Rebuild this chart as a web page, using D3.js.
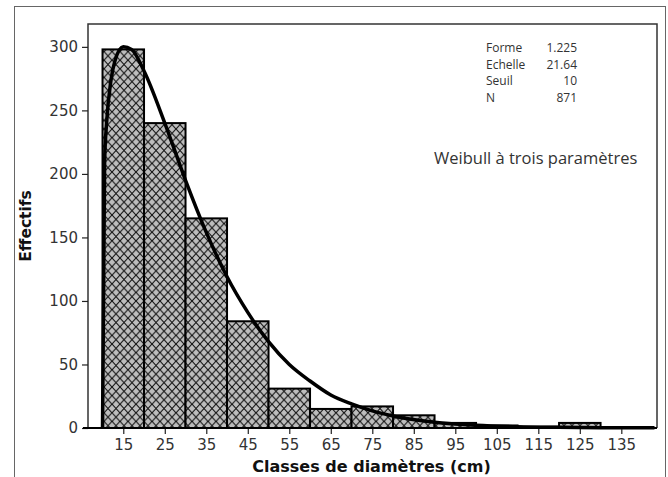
<!DOCTYPE html>
<html>
<head>
<meta charset="utf-8">
<script src="https://cdn.jsdelivr.net/npm/d3@7"></script>
<style>
  body { margin: 0; background: #fff; }
  svg { display: block; }
</style>
</head>
<body>
<svg id="chart" width="668" height="477"></svg>
<script>
// classes de diamètres (bornes inférieures) et effectifs
const binStarts = [10, 20, 30, 40, 50, 60, 70, 80, 90, 100, 110, 120, 130];
const counts = [298, 240, 165, 84, 31, 15, 17, 10, 4, 2, 1, 4, 0];
const binWidth = 10;

// courbe ajustée
const curveX = [10, 10.5, 11, 12, 13, 15, 17, 20, 25, 30, 35, 40, 45, 50, 55, 60, 65, 70, 75, 80, 90, 100, 110, 120, 130, 143];
const curveY = [0, 209, 241, 273, 289, 300, 298, 281, 240, 195, 154, 119, 91, 68, 50, 37, 26, 19, 13.5, 9.5, 4.6, 2.2, 1, 0.5, 0.2, 0.1];

const xTicks = [15, 25, 35, 45, 55, 65, 75, 85, 95, 105, 115, 125, 135];
const yTicks = [0, 50, 100, 150, 200, 250, 300];

const statLabels = ['Forme', 'Echelle', 'Seuil', 'N'];
const statValues = ['1.225', '21.64', '10', '871'];

const svg = d3.select('#chart');
const pLeft = 88, pRight = 657, pTop = 24, pBottom = 428;

const x = d3.scaleLinear().domain([6.5, 143.6]).range([pLeft, pRight]);
const y = d3.scaleLinear().domain([0, 318]).range([pBottom, pTop]);

// cadre extérieur
svg.append('rect')
  .attr('x', 14.5).attr('y', 6.5)
  .attr('width', 651).attr('height', 480)
  .attr('fill', 'none').attr('stroke', '#666').attr('stroke-width', 1);

// motif hachuré
const defs = svg.append('defs');
const pat = defs.append('pattern')
  .attr('id', 'hatch')
  .attr('patternUnits', 'userSpaceOnUse')
  .attr('width', 8).attr('height', 8.6);
pat.append('rect').attr('width', 8).attr('height', 8.6).attr('fill', '#bdbdbd');
pat.append('path')
  .attr('d', 'M0,0L8,8.6M8,0L0,8.6')
  .attr('stroke', '#111').attr('stroke-width', 1.1);

// barres
svg.append('g').selectAll('rect')
  .data(binStarts.map((b, i) => ({ b, n: counts[i] })).filter(d => d.n > 0))
  .join('rect')
  .attr('x', d => x(d.b))
  .attr('y', d => y(d.n))
  .attr('width', d => x(d.b + binWidth) - x(d.b))
  .attr('height', d => y(0) - y(d.n))
  .attr('fill', 'url(#hatch)')
  .attr('stroke', '#000')
  .attr('stroke-width', 2);

// courbe de Weibull
const line = d3.line()
  .x((d, i) => x(curveX[i]))
  .y(d => y(d))
  .curve(d3.curveMonotoneX);
svg.append('path')
  .attr('d', line(curveY))
  .attr('fill', 'none')
  .attr('stroke', '#000')
  .attr('stroke-width', 3.5)
  .attr('stroke-linejoin', 'round');

// cadre du graphique
svg.append('path')
  .attr('d', `M${pLeft},${pBottom}V${pTop}H${pRight}V${pBottom}`)
  .attr('fill', 'none').attr('stroke', '#333').attr('stroke-width', 1.5);

// axes
const yAxis = svg.append('g')
  .attr('transform', `translate(${pLeft},0)`)
  .call(d3.axisLeft(y).tickValues(yTicks).tickSize(6).tickPadding(4));
const xAxis = svg.append('g')
  .attr('transform', `translate(0,${pBottom})`)
  .call(d3.axisBottom(x).tickValues(xTicks).tickSize(6).tickPadding(5));

[yAxis, xAxis].forEach(g => {
  g.select('.domain').remove();
  g.selectAll('line').attr('stroke', '#222').attr('stroke-width', 1.2);
  g.selectAll('text')
    .attr('fill', '#333')
    .style('font-family', '"DejaVu Sans", Verdana, sans-serif')
    .style('font-size', '15px');
});

svg.append('line')
  .attr('x1', pLeft - 5).attr('x2', pRight)
  .attr('y1', pBottom).attr('y2', pBottom)
  .attr('stroke', '#000').attr('stroke-width', 2);

// titres des axes
svg.append('text')
  .attr('x', (pLeft + pRight) / 2 - 1).attr('y', 472)
  .attr('text-anchor', 'middle')
  .style('font-family', '"DejaVu Sans", Verdana, sans-serif')
  .style('font-size', '16px').style('font-weight', 'bold')
  .attr('fill', '#111')
  .text('Classes de diamètres (cm)');

svg.append('text')
  .attr('transform', `translate(31,${(pTop + pBottom) / 2}) rotate(-90)`)
  .attr('text-anchor', 'middle')
  .style('font-family', '"DejaVu Sans", Verdana, sans-serif')
  .style('font-size', '15.5px').style('font-weight', 'bold')
  .attr('fill', '#111')
  .text('Effectifs');

// paramètres
const stats = svg.append('g')
  .style('font-family', '"Open Sans", "DejaVu Sans", sans-serif')
  .style('font-size', '12px').attr('fill', '#333');
statLabels.forEach((s, i) => {
  stats.append('text').attr('x', 486).attr('y', 52 + i * 16.5).text(s);
  stats.append('text').attr('x', 577).attr('y', 52 + i * 16.5)
    .attr('text-anchor', 'end').text(statValues[i]);
});

svg.append('text')
  .attr('x', 434).attr('y', 164)
  .style('font-family', '"Open Sans", "DejaVu Sans", sans-serif')
  .style('font-size', '16.5px').attr('fill', '#333')
  .text('Weibull à trois paramètres');
</script>
</body>
</html>
